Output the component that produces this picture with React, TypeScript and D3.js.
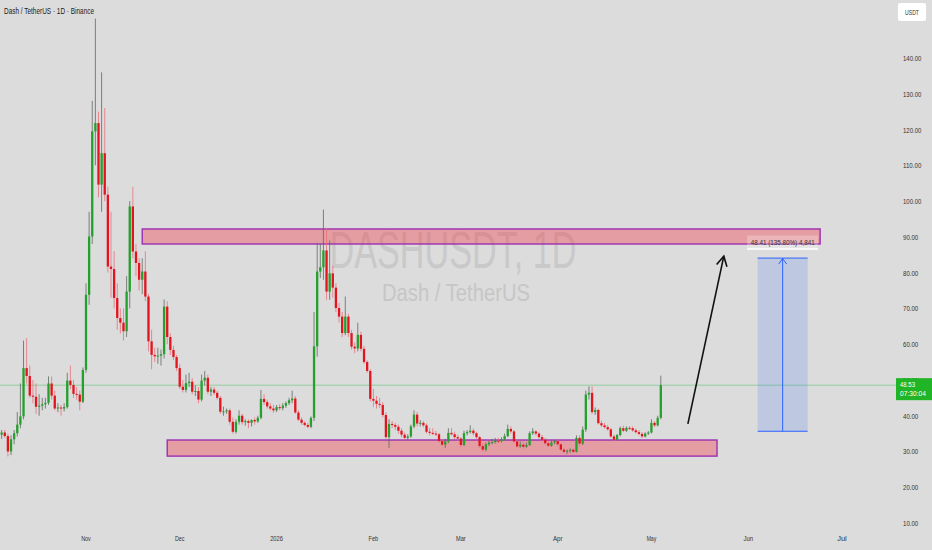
import React from "react";
import * as d3 from "d3";

const W = 932;
const H = 550;

// Daily candles starting 2025-10-05 (one per day)
const startDay = [2025, 9, 5];
const opens = [34.7,35.3,34.3,30.0,33.4,35.1,37.5,39.8,53.3,51.1,45.6,45.3,42.5,42.8,43.2,43.6,49.0,45.6,42.0,42.3,42.0,42.4,49.8,48.6,46.1,45.9,43.9,52.8,73.8,90.1,119.5,121.8,104.6,113.4,101.8,81.7,81.0,72.9,67.3,66.0,63.6,74.7,98.5,85.9,82.7,78.0,80.3,73.3,60.8,57.0,56.6,56.8,57.2,70.5,62.0,58.4,56.4,53.3,48.1,47.2,49.1,49.5,46.7,46.9,44.5,49.8,50.6,46.7,47.3,46.4,45.0,41.1,41.2,41.5,38.3,35.5,38.3,40.0,38.2,38.5,38.0,38.8,38.4,39.4,44.7,43.8,42.6,42.0,41.5,42.4,42.1,42.8,43.5,44.3,44.8,40.9,38.9,38.0,37.4,36.9,39.4,59.4,80.3,81.5,86.2,74.7,79.8,75.8,70.1,67.7,63.1,67.7,63.1,59.3,58.8,62.6,58.7,55.0,52.5,44.7,44.2,43.3,43.0,40.2,34.0,37.7,37.4,36.9,35.8,34.7,33.8,34.2,37.0,40.3,37.8,38.0,37.3,35.5,35.2,35.0,34.8,32.9,31.9,32.8,35.2,34.8,34.0,33.6,31.8,35.1,35.4,35.8,35.1,34.0,31.5,30.5,32.0,32.5,32.6,33.0,32.9,33.4,34.3,36.3,35.6,32.8,31.4,31.9,31.3,31.8,35.1,35.6,35.0,34.0,33.3,32.3,31.6,32.5,32.9,32.0,30.5,29.9,30.2,30.5,29.9,33.8,32.2,36.1,45.9,46.4,41.0,41.6,37.9,37.3,36.8,36.2,34.2,33.3,34.6,36.5,35.8,36.6,36.5,35.9,35.4,34.9,34.2,35.0,35.3,38.0,37.3,39.4];
const highs = [36,36,35,34.5,36,41,49,61,61.7,54,50,49,46,45,45,51,51,47,43.5,43,43.5,52,54,50,48,47,53.5,77,97,128,151,125,136,126,104,97,86,77,70,70,79,100,104,88,84,84,86,74,64,59,59,58.5,72.5,72,63,59.5,57,54.5,50,51.5,52,50.5,48.5,48,51.5,52.5,51.5,48,48,47,45.5,42.5,42,42,39.5,39,41.5,40.5,39,39,39,39.5,40,47.2,46,44.5,43.5,43,43,43.2,43.5,44,45,47,45.5,41.5,39.5,38.5,38,39.8,69,88.3,88,97.6,92.5,89,82,77,71.5,69,73.3,68.5,64,60.5,66,63.5,59.5,55.5,53,47.5,45.5,45,43.8,41,39,38.5,38,37.5,36.5,35.3,34.8,37.5,41.5,41,38.8,38.5,37.8,36.5,36.5,35.8,35.2,33.5,33.5,36.5,36.6,35.5,34.7,34,35.8,36,37.3,36.4,35.5,34.3,32.3,32.5,33,33.5,33.8,33.8,34,35,37.5,37,36,33.5,32.8,32.5,32.5,35.6,36.5,36,35.5,34.6,33.8,33,33,33.3,33.5,32.3,31,30.6,30.9,30.8,34.5,34.5,37,47,48.2,48.2,42.3,42,38.6,38,37.4,36.6,34.7,34.9,37,37.2,37,37.1,37,36.4,36,35.4,35.4,35.7,39,38.5,40,51.2];
const lows = [33.5,33.8,28.6,29.0,32,34.2,36.5,39,49,45,43.5,40.5,40,41.5,42,43,44.5,41.5,41,40,41.2,42,47.5,45,44.5,41.5,43.5,52,71,88,110,101,97,100,80,73,70,64,63,61,62,70,84,79,75,74,72,58,53,55,54.5,54,56,60,57,55.5,52.5,47.5,46.5,46.5,48,46,45.5,43.5,44,48.5,46,45.5,45.8,44.5,40.5,40,40.5,37.5,35,35,37.5,37.5,37.2,36.5,37,37.5,38,39,43,42,41.5,40.8,41,41.5,41.5,42.2,43,43.5,40.5,38.5,37.5,37,36.5,36.5,38.5,56.5,78.5,78,72.4,72.4,73,69,66,62,62.5,62,58.5,57.5,58,58,54.5,52,44,42.5,42,42.2,39.5,33.5,31,36.5,36,35,34,33.3,33,33.8,36.5,37,37,36.8,35,34.5,34.6,34.3,32.5,31.5,31,32.3,34.5,33.5,33,31.2,31.5,34.5,35,34.5,33.5,31,30,30,31.5,32,32.2,32.3,32.5,33,34,35,32.5,31,31,30.8,31,31.5,34.6,34.5,33.6,32.8,31.8,31.2,31.3,32,31.5,30.2,29.5,29.3,29.6,29.5,29.7,31.5,31.8,35.5,44.5,40.5,40.2,37.5,36.8,36.4,35.8,33.8,32.9,33,34.2,35.4,35.4,36,35.5,35,34.5,33.8,33.9,34.6,35,36.8,37,39];
const closes = [35.3,34.3,30.0,33.4,35.1,37.5,39.8,53.3,51.1,45.6,45.3,42.5,42.8,43.2,43.6,49.0,45.6,42.0,42.3,42.0,42.4,49.8,48.6,46.1,45.9,43.9,52.8,73.8,90.1,119.5,121.8,104.6,113.4,101.8,81.7,81.0,72.9,67.3,66.0,63.6,74.7,98.5,85.9,82.7,78.0,80.3,73.3,60.8,57.0,56.6,56.8,57.2,70.5,62.0,58.4,56.4,53.3,48.1,47.2,49.1,49.5,46.7,46.9,44.5,49.8,50.6,46.7,47.3,46.4,45.0,41.1,41.2,41.5,38.3,35.5,38.3,40.0,38.2,38.5,38.0,38.8,38.4,39.4,44.7,43.8,42.6,42.0,41.5,42.4,42.1,42.8,43.5,44.3,44.8,40.9,38.9,38.0,37.4,36.9,39.4,59.4,80.3,81.5,86.2,74.7,79.8,75.8,70.1,67.7,63.1,67.7,63.1,59.3,58.8,62.6,58.7,55.0,52.5,44.7,44.2,43.3,43.0,40.2,34.0,37.7,37.4,36.9,35.8,34.7,33.8,34.2,37.0,40.3,37.8,38.0,37.3,35.5,35.2,35.0,34.8,32.9,31.9,32.8,35.2,34.8,34.0,33.6,31.8,35.1,35.4,35.8,35.1,34.0,31.5,30.5,32.0,32.5,32.6,33.0,32.9,33.4,34.3,36.3,35.6,32.8,31.4,31.9,31.3,31.8,35.1,35.6,35.0,34.0,33.3,32.3,31.6,32.5,32.9,32.0,30.5,29.9,30.2,30.5,29.9,33.8,32.2,36.1,45.9,46.4,41.0,41.6,37.9,37.3,36.8,36.2,34.2,33.3,34.6,36.5,35.8,36.6,36.5,35.9,35.4,34.9,34.2,35.0,35.3,38.0,37.3,39.4,48.53];

const priceTicks = [10, 20, 30, 40, 50, 60, 70, 80, 90, 100, 110, 120, 130, 140];
const monthTicks = [
  [2025, 10, "Nov"], [2025, 11, "Dec"], [2026, 0, "2026"], [2026, 1, "Feb"], [2026, 2, "Mar"],
  [2026, 3, "Apr"], [2026, 4, "May"], [2026, 5, "Jun"], [2026, 6, "Jul"],
] as const;

// Drawings: [startDate, endDate, topPrice, bottomPrice]
const upperZone = { from: [2025, 10, 19], to: [2026, 5, 24], top: 92.2, bottom: 88.0 };
const lowerZone = { from: [2025, 10, 27], to: [2026, 4, 22], top: 33.2, bottom: 28.7 };
const measure = { from: [2026, 5, 4], to: [2026, 5, 20], top: 84.06, bottom: 35.65 };
const measureLabel = "48.41 (135.80%) 4,841";
const arrowLine = { from: [2026, 4, 12, 16], to: [2026, 4, 24, 4], p0: 37.7, p1: 84.6 };
const lastPrice = "48.53";
const countdown = "07:30:04";

const utc = (a: readonly number[]) => Date.UTC(a[0], a[1], a[2], a[3] || 0);

export default function App() {
  const x = d3.scaleUtc().domain([Date.UTC(2025, 10, 1), Date.UTC(2026, 6, 1)]).range([86, 842]);
  const y = d3.scaleLinear().domain([10, 140]).range([523, 58]);
  const fmt = d3.format(".2f");
  const font = "'Liberation Sans', Arial, sans-serif";

  const green = "#24a02c";
  const red = "#e3141f";
  const bw = 2.3;

  const candles = closes.map((c, i) => {
    const o = opens[i];
    const t = Date.UTC(startDay[0], startDay[1], startDay[2] + i);
    const cx = x(t);
    const up = c >= o;
    const yTop = y(Math.max(o, c));
    const yBot = y(Math.min(o, c));
    return (
      <g key={i}>
        <line x1={cx} x2={cx} y1={y(highs[i])} y2={y(lows[i])} stroke={up ? "#5d6a5e" : "#e8707a"} strokeWidth={0.8} />
        <rect x={cx - bw / 2} y={yTop} width={bw} height={Math.max(1, yBot - yTop)} fill={up ? green : red} />
      </g>
    );
  });

  const zoneRect = (z: typeof upperZone, k: string) => {
    const x0 = x(utc(z.from));
    const x1 = x(utc(z.to));
    return (
      <rect key={k} x={x0} y={y(z.top)} width={x1 - x0} height={y(z.bottom) - y(z.top)}
        fill="rgba(242,54,69,0.38)" stroke="#9c2fb2" strokeWidth={1.4} />
    );
  };

  const mx0 = x(utc(measure.from));
  const mx1 = x(utc(measure.to));
  const mTop = y(measure.top);
  const mBot = y(measure.bottom);
  const mcx = (mx0 + mx1) / 2;

  const ax0 = x(utc(arrowLine.from));
  const ay0 = y(arrowLine.p0);
  const ax1 = x(utc(arrowLine.to));
  const ay1 = y(arrowLine.p1);
  const len = Math.hypot(ax1 - ax0, ay1 - ay0);
  const ux = (ax0 - ax1) / len;
  const uy = (ay0 - ay1) / len;
  const rot = (a: number) => [ux * Math.cos(a) - uy * Math.sin(a), ux * Math.sin(a) + uy * Math.cos(a)];
  const h1 = rot(0.5);
  const h2 = rot(-0.5);
  const hl = 11;

  const lastY = y(closes[closes.length - 1]);

  return (
    <svg width={W} height={H} style={{ position: "absolute", left: 0, top: 0 }} fontFamily={font}>
      <rect x={0} y={0} width={W} height={H} fill="#dcdcdc" />

      {/* watermark */}
      <text x={453} y={268} textAnchor="middle" fontSize={52} fill="#c9c9c9" textLength={247} lengthAdjust="spacingAndGlyphs">DASHUSDT, 1D</text>
      <text x={456} y={301} textAnchor="middle" fontSize={23} fill="#c6c6c6" textLength={148} lengthAdjust="spacingAndGlyphs">Dash / TetherUS</text>

      {/* header */}
      <text x={4} y={13.5} fontSize={9} fill="#222" textLength={90} lengthAdjust="spacingAndGlyphs">Dash / TetherUS · 1D · Binance</text>

      {/* zones */}
      {zoneRect(upperZone, "u")}
      {zoneRect(lowerZone, "l")}

      {/* last price line */}
      <line x1={0} x2={897} y1={lastY} y2={lastY} stroke="#7ccb8a" strokeWidth={0.8} />

      {candles}

      {/* measure box */}
      <rect x={mx0} y={mTop} width={mx1 - mx0} height={mBot - mTop} fill="rgba(41,98,255,0.16)" />
      <line x1={mx0} x2={mx1} y1={mTop} y2={mTop} stroke="#2962ff" strokeWidth={1} />
      <line x1={mx0} x2={mx1} y1={mBot} y2={mBot} stroke="#2962ff" strokeWidth={1} />
      <line x1={mcx} x2={mcx} y1={mBot} y2={mTop + 0.5} stroke="#2962ff" strokeWidth={1} />
      <path d={`M${mcx - 4},${mTop + 6} L${mcx},${mTop + 0.5} L${mcx + 4},${mTop + 6}`} fill="none" stroke="#2962ff" strokeWidth={1} />
      <rect x={747} y={235.5} width={71} height={14} fill="rgba(255,255,255,0.25)" />
      <line x1={747} x2={818} y1={249} y2={249} stroke="#ffffff" strokeWidth={1.5} />
      <text x={mcx} y={245} textAnchor="middle" fontSize={7.5} fill="#333" textLength={64} lengthAdjust="spacingAndGlyphs">{measureLabel}</text>

      {/* black arrow */}
      <line x1={ax0} y1={ay0} x2={ax1} y2={ay1} stroke="#111" strokeWidth={1.6} />
      <path d={`M${ax1 + h1[0] * hl},${ay1 + h1[1] * hl} L${ax1},${ay1} L${ax1 + h2[0] * hl},${ay1 + h2[1] * hl}`} fill="none" stroke="#111" strokeWidth={1.6} />

      {/* price axis */}
      {priceTicks.map((v) => {
        const s = fmt(v);
        return (
          <text key={v} x={903} y={y(v) + 3} fontSize={8} fill="#333" textLength={s.length * 3.05} lengthAdjust="spacingAndGlyphs">{s}</text>
        );
      })}

      {/* time axis */}
      {monthTicks.map(([yr, m, label]) => (
        <text key={label} x={x(Date.UTC(yr, m, 1))} y={541} textAnchor="middle" fontSize={8} fill="#333"
          textLength={label.length * 3.2} lengthAdjust="spacingAndGlyphs">{label}</text>
      ))}

      {/* USDT box */}
      <rect x={898} y={3} width={28} height={18} rx={2} fill="#ffffff" />
      <text x={912} y={14.5} textAnchor="middle" fontSize={7} fill="#333" textLength={14} lengthAdjust="spacingAndGlyphs">USDT</text>

      {/* last price label */}
      <rect x={896} y={lastY - 7} width={36} height={22} fill="#1fb526" />
      <text x={900} y={lastY + 1.5} fontSize={7.5} fill="#fff" textLength={15} lengthAdjust="spacingAndGlyphs">{lastPrice}</text>
      <text x={900} y={lastY + 11} fontSize={7.5} fill="#fff" textLength={26} lengthAdjust="spacingAndGlyphs">{countdown}</text>
    </svg>
  );
}
